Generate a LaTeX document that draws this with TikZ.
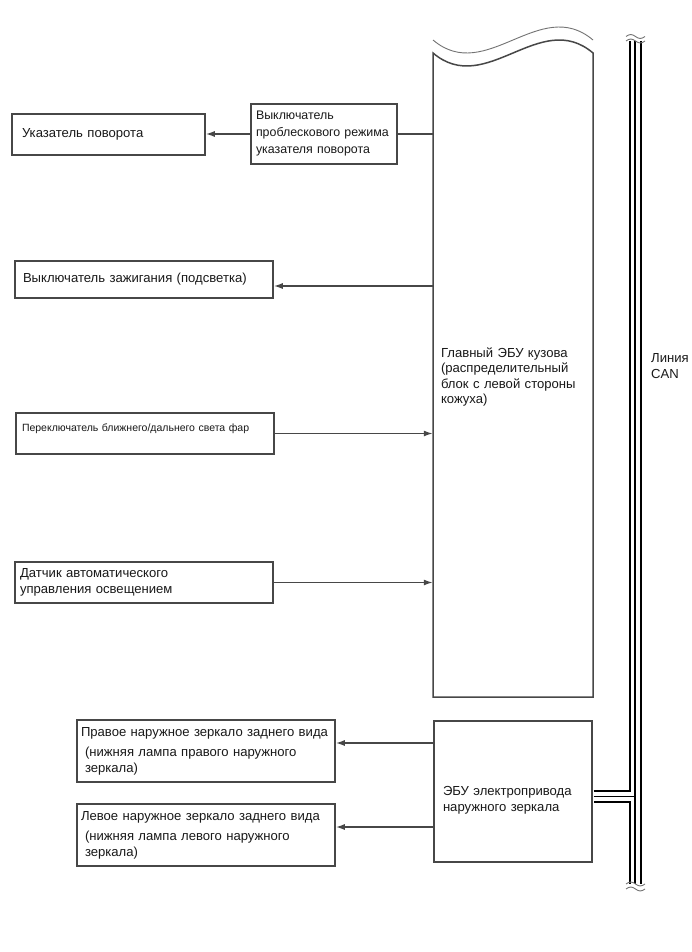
\documentclass[tikz,border=0pt]{standalone}
\usepackage{fontspec}
\setmainfont{Liberation Sans}
\usetikzlibrary{arrows.meta,calc}
\newcommand\canwave[1]{\draw[wave] (626,#1) sin (630.75,{#1-2}) cos (635.5,#1) sin (640.25,{#1+2}) cos (645,#1);}
\begin{document}
\begin{tikzpicture}[x=1pt,y=-1pt,
  every node/.style={font=\fontsize{13.1}{15.5}\selectfont, text=black!90},
  box/.style={draw=black!72, line width=1.5pt, rectangle, align=left, inner ysep=2pt},
  conn/.style={draw=black!72, line width=1.5pt},
  arr/.style={conn, -{Latex[length=9pt,width=6pt]}},
  wave/.style={draw=black!55, line width=0.9pt}]
\useasboundingbox (0,0) rectangle (691,952);
\fill[white] (0,0) rectangle (691,952);

% left-hand boxes
\node[box, minimum width=193pt, minimum height=41pt, inner xsep=10pt, text width=173pt] (turn) at (108.5,134.5) {Указатель поворота};
\node[box, minimum width=146pt, minimum height=60pt, inner xsep=5pt, text width=136pt, font=\fontsize{12.4}{17}\selectfont] (blink) at (324,134) {\mbox{Выключатель}\\\mbox{проблескового режима}\\\mbox{указателя поворота}};
\node[box, minimum width=258pt, minimum height=37pt, inner xsep=8pt, text width=242pt] (ign) at (144,279.5) {Выключатель зажигания (подсветка)};
\node[box, minimum width=258pt, minimum height=41pt, inner xsep=6pt, inner ysep=0pt, text width=246pt, text height=18.5pt, text depth=22.5pt, font=\fontsize{10.5}{12}\selectfont] (head) at (145,433.5) {\mbox{Переключатель ближнего/дальнего света фар}};
\node[box, minimum width=258pt, minimum height=41pt, inner xsep=5pt, text width=248pt, font=\fontsize{13.1}{16}\selectfont] (sens) at (144,582.5) {Датчик автоматического\\управления освещением};

% main body ECU (wavy top drawn separately)
\node[minimum width=160pt, minimum height=644pt, inner xsep=8pt, text width=144pt, align=left] (main) at (513,377) {Главный ЭБУ кузова\\(распределительный\\блок с левой стороны\\кожуха)};
\draw[conn] (433,53) .. controls (486,98) and (540,8) .. (593,53) -- (593,697) -- (433,697) -- cycle;
\draw[wave] (433,40) .. controls (486,85) and (540,-5) .. (593,40);

% mirror ECU and mirrors
\node[box, minimum width=158pt, minimum height=141pt, inner xsep=9pt, inner ysep=0pt, text width=140pt, text height=74.5pt, text depth=66.5pt, font=\fontsize{13.1}{16}\selectfont] (mecu) at (513,791.5) {ЭБУ электропривода\\наружного зеркала};
\node[box, minimum width=258pt, minimum height=62pt, inner xsep=4pt, text width=250pt] (rmir) at (206,751) {\mbox{Правое наружное зеркало заднего вида}\\[5pt]\hspace*{4pt}(нижняя лампа правого наружного\\\hspace*{4pt}зеркала)};
\node[box, minimum width=258pt, minimum height=62pt, inner xsep=4pt, text width=250pt] (lmir) at (206,835) {\mbox{Левое наружное зеркало заднего вида}\\[5pt]\hspace*{4pt}(нижняя лампа левого наружного\\\hspace*{4pt}зеркала)};

\node[anchor=west, align=left, inner sep=3pt] (canlbl) at (648,366) {Линия\\CAN};

% connectors
\draw[conn] (main.west |- blink.east) -- (blink.east);
\draw[arr] (blink.west) -- (turn.east |- blink.west);
\coordinate (ignIn) at ($(ign.east)+(0,6.5)$);
\draw[arr] (main.west |- ignIn) -- (ignIn);
\draw[arr] (head.east) -- (main.west |- head.east);
\draw[arr] (sens.east) -- (main.west |- sens.east);
\coordinate (rIn) at ($(rmir.east)+(0,-8)$);
\draw[arr] (mecu.west |- rIn) -- (rIn);
\coordinate (lIn) at ($(lmir.east)+(0,-8)$);
\draw[arr] (mecu.west |- lIn) -- (lIn);

% CAN bus
\coordinate (cantop) at (635,41);
\coordinate (canbot) at (635,884);
\coordinate (mout) at ($(mecu.east)+(0.8,5)$);
\coordinate (canjoin) at (mout -| cantop);
\foreach \w/\c in {13pt/black, 9pt/white, 1.2pt/black}
  \draw[line width=\w, \c] (cantop) -- (canbot) (mout) -- (canjoin);
\canwave{36.5}
\canwave{41}
\canwave{884}
\canwave{889}
\end{tikzpicture}
\end{document}
